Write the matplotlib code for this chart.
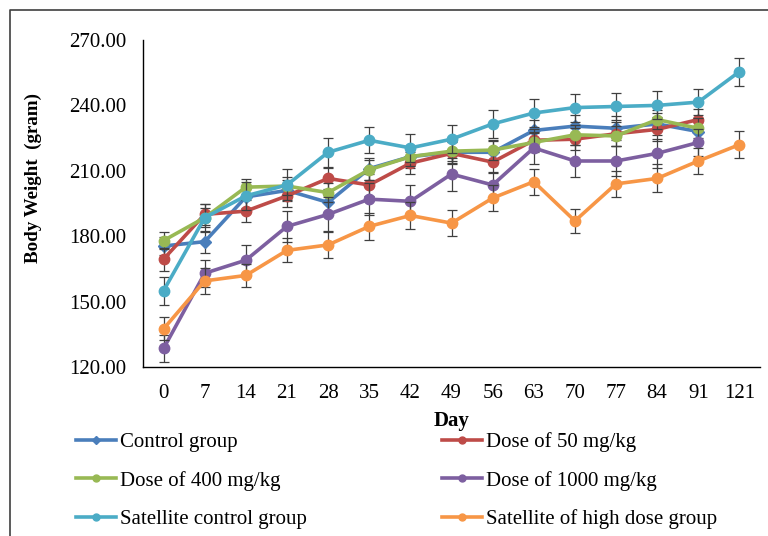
import matplotlib.pyplot as plt
import numpy as np
from matplotlib.lines import Line2D

# ------------ Data --------------------------------------
days = ["0", "7", "14", "21", "28", "35", "42", "49", "56", "63", "70", "77", "84", "91", "121"]

control = [175.5, 177.5, 198.0, 201.0, 195.5, 211.0, 216.5, 218.5, 218.5, 228.5, 230.5, 229.5, 231.5, 228.0]
dose50 = [169.5, 190.0, 191.5, 198.5, 206.5, 203.5, 213.5, 218.0, 214.0, 224.0, 224.5, 227.0, 229.0, 233.5]
dose400 = [178.0, 188.5, 202.5, 203.0, 200.0, 210.5, 216.5, 219.0, 219.5, 223.0, 226.5, 226.0, 233.5, 229.5]
dose1000 = [128.5, 163.0, 169.0, 184.5, 190.0, 197.0, 196.0, 208.5, 203.5, 220.5, 214.5, 214.5, 218.0, 223.0]
sat_control = [155.0, 188.5, 198.5, 203.5, 218.5, 224.0, 220.5, 224.5, 231.5, 236.5, 239.0, 239.5, 240.0, 241.5, 255.5]
sat_high = [137.5, 159.5, 162.0, 173.5, 176.0, 184.5, 189.5, 186.0, 197.5, 205.0, 187.0, 204.0, 206.5, 214.5, 222.0]

control_err = [4.0, 5.0, 5.0, 5.0, 5.0, 5.0, 5.0, 5.0, 5.0, 5.0, 5.0, 5.5, 5.0, 5.0]
dose50_err = [5.3, 5.0, 4.9, 5.0, 5.0, 5.0, 5.0, 5.0, 5.0, 5.0, 5.0, 5.5, 5.5, 5.0]
dose400_err = [4.1, 4.5, 3.8, 4.0, 4.5, 4.5, 4.5, 4.5, 4.5, 4.5, 4.5, 4.5, 4.5, 4.5]
dose1000_err = [6.4, 6.1, 6.9, 7.2, 7.8, 7.2, 7.3, 7.6, 6.0, 7.2, 7.2, 7.0, 6.5, 6.0]
sat_control_err = [6.5, 6.5, 6.5, 7.1, 6.6, 6.0, 6.6, 6.5, 6.4, 6.6, 6.4, 6.4, 6.4, 6.1, 6.4]
sat_high_err = [5.3, 5.8, 5.3, 5.5, 5.8, 6.1, 6.1, 5.8, 6.1, 6.0, 5.6, 6.1, 6.4, 6.1, 6.1]

labels = ["Control group", "Dose of 50 mg/kg", "Dose of 400 mg/kg",
          "Dose of 1000 mg/kg", "Satellite control group", "Satellite of high dose group"]
colors = ["#4A7EBB", "#BE4B48", "#98B954", "#7D5FA0", "#4BACC6", "#F79646"]
# --------------------------------------------------------

plt.rcParams["font.family"] = ["Liberation Serif", "DejaVu Serif"]

fig = plt.figure(figsize=(7.68, 5.36), dpi=100)
ax = fig.add_axes([143 / 768, 1 - 367 / 536, (760 - 143) / 768, (367 - 40) / 536])

series = [control, dose50, dose400, dose1000, sat_control, sat_high]
errors = [control_err, dose50_err, dose400_err, dose1000_err, sat_control_err, sat_high_err]
markers = ["D", "o", "o", "o", "o", "o"]

for i, (vals, err) in enumerate(zip(series, errors)):
    x = np.arange(len(vals))
    ax.errorbar(x, vals, yerr=err, fmt="none", ecolor="#404040",
                elinewidth=0.9, capsize=3.5, capthick=0.9, zorder=2 + i * 0.1)
    ms = 6 if markers[i] == "D" else 7.5
    ax.plot(x, vals, color=colors[i], lw=2.6, marker=markers[i],
            ms=ms, zorder=2.05 + i * 0.1, label=labels[i])

ax.set_xlim(-0.5, len(days) - 0.5)
ax.set_ylim(120, 270)
ax.set_xticks(np.arange(len(days)))
ax.set_xticklabels(days)
ax.set_yticks(np.arange(120, 271, 30))
ax.set_yticklabels([f"{v:.2f}" for v in np.arange(120, 271, 30)])
ax.tick_params(axis="both", length=0, labelsize=15)
ax.tick_params(axis="y", pad=12)
ax.tick_params(axis="x", pad=12)

for side in ["top", "right"]:
    ax.spines[side].set_visible(False)
ax.spines["left"].set_linewidth(1.0)
ax.spines["bottom"].set_linewidth(1.0)

ax.set_xlabel("Day", fontsize=15, fontweight="bold", labelpad=6)
ax.set_ylabel("Body Weight  (gram)", fontsize=13.7, fontweight="bold")
ax.yaxis.set_label_coords(-0.164, 0.578)

# legend: fill row by row (matplotlib fills columns first, so reorder)
order = [0, 2, 4, 1, 3, 5]
leg_handles = [Line2D([], [], color=colors[i], lw=2.6, marker=markers[i],
                      ms=4 if markers[i] == "D" else 5) for i in order]
fig.legend(leg_handles, [labels[i] for i in order], ncol=2, loc="upper left",
           bbox_to_anchor=(76 / 768, 1 - 432 / 536), frameon=False,
           fontsize=15, handlelength=1.9, handletextpad=0.2,
           columnspacing=6.5, labelspacing=0.9, borderpad=0, borderaxespad=0)

# outer chart frame (left and top edges)
fig.add_artist(Line2D([10 / 768, 10 / 768, 1.0], [0.0, 1 - 10 / 536, 1 - 10 / 536],
                      transform=fig.transFigure, color="#404040", lw=1.2))

fig.savefig("out.png", dpi=100)
